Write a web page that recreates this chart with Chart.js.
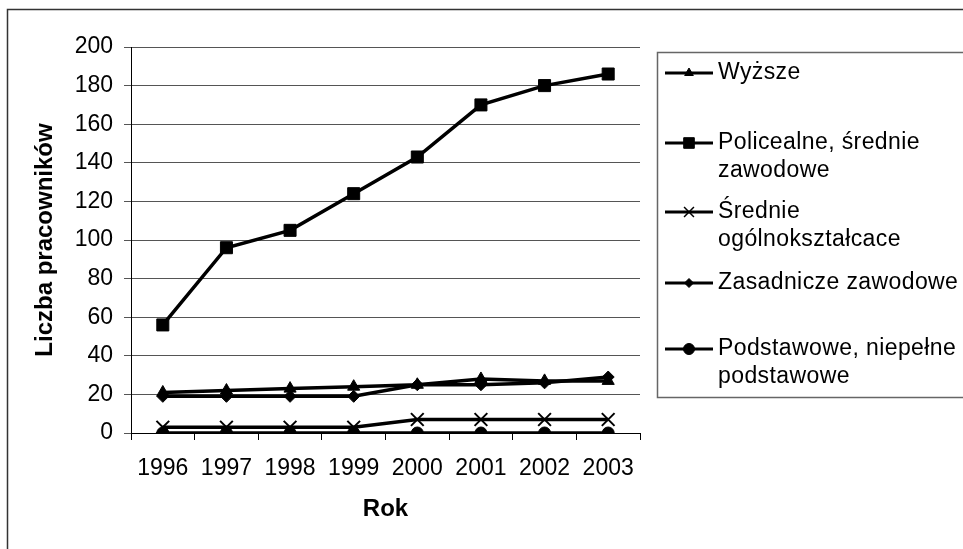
<!DOCTYPE html>
<html>
<head>
<meta charset="utf-8">
<script src="https://cdn.jsdelivr.net/npm/chart.js@4"></script>
<style>
  body { margin: 0; background: #fff; }
  #wrap { width: 963px; height: 549px; }
</style>
</head>
<body>
<div id="wrap"><canvas id="wykres" width="963" height="549"></canvas></div>
<script>
const lata = ['1996', '1997', '1998', '1999', '2000', '2001', '2002', '2003'];
const wyzsze = [21, 22, 23, 24, 25, 28, 27, 27];
const policealne = [56, 96, 105, 124, 143, 170, 180, 186];
const srednieOgolne = [3, 3, 3, 3, 7, 7, 7, 7];
const zasadnicze = [19, 19, 19, 19, 25, 25, 26, 29];
const podstawowe = [0, 0, 0, 0, 0, 0, 0, 0];
const nazwy = [
    ['Wyższe'],
    ['Policealne, średnie', 'zawodowe'],
    ['Średnie', 'ogólnokształcace'],
    ['Zasadnicze zawodowe'],
    ['Podstawowe, niepełne', 'podstawowe']
];

const czcionka = "'Liberation Sans', Arial, sans-serif";

function seria(i, dane, styl, r) {
    return {
        label: nazwy[i].join(' '),
        data: dane,
        borderColor: '#000',
        backgroundColor: '#000',
        borderWidth: 3.5,
        pointStyle: styl,
        pointRadius: r,
        pointBorderWidth: styl === 'crossRot' ? 2 : 1,
        tension: 0
    };
}

// ramka wykresu i legenda w stylu Excela
const ramki = {
    id: 'ramki',
    afterDraw(chart) {
        const ctx = chart.ctx;
        ctx.save();
        ctx.strokeStyle = '#333';
        ctx.lineWidth = 1.5;
        ctx.strokeRect(7.5, 9.5, 1000, 1000);
        ctx.strokeStyle = '#666';
        ctx.strokeRect(657.5, 52.5, 400, 345);

        const wiersze = [73, 143, 212, 283, 349];
        const rozmiar = [5, 7.5, 7, 4.5, 5.5];
        ctx.font = '23px ' + czcionka;
        ctx.letterSpacing = '0.4px';
        ctx.textBaseline = 'middle';
        ctx.fillStyle = '#000';
        chart.data.datasets.forEach((ds, i) => {
            const y = wiersze[i];
            ctx.strokeStyle = '#000';
            ctx.lineWidth = 3;
            ctx.beginPath();
            ctx.moveTo(665, y);
            ctx.lineTo(713, y);
            ctx.stroke();
            ctx.lineWidth = ds.pointStyle === 'crossRot' ? 1.5 : 1;
            Chart.helpers.drawPoint(ctx, {
                pointStyle: ds.pointStyle,
                radius: rozmiar[i],
                rotation: 0,
                borderWidth: ctx.lineWidth
            }, 689, y);
            nazwy[i].forEach((t, k) => ctx.fillText(t, 718, y + k * 28));
        });
        ctx.restore();
    }
};

new Chart(document.getElementById('wykres'), {
    type: 'line',
    data: {
        labels: lata,
        datasets: [
            seria(0, wyzsze, 'triangle', 7),
            seria(1, policealne, 'rect', 8.5),
            seria(2, srednieOgolne, 'crossRot', 9),
            seria(3, zasadnicze, 'rectRot', 6),
            seria(4, podstawowe, 'circle', 6)
        ]
    },
    options: {
        responsive: false,
        animation: false,
        layout: { padding: { left: 20, top: 47, right: 323, bottom: 20 } },
        plugins: {
            legend: { display: false },
            tooltip: { enabled: false }
        },
        scales: {
            x: {
                offset: true,
                afterFit(s) { s.height = 96; },
                grid: { display: true, drawOnChartArea: false, drawTicks: true, tickLength: 7, color: '#000', offset: true },
                border: { color: '#000', width: 1 },
                ticks: { color: '#000', padding: 15, font: { family: czcionka, size: 23 } },
                title: { display: true, text: 'Rok', color: '#000', padding: { top: 0, bottom: 5 }, font: { family: czcionka, size: 24, weight: 'bold' } }
            },
            y: {
                min: 0,
                max: 200,
                afterFit(s) { s.width = 111; },
                grid: { color: '#555', tickLength: 7, drawTicks: true },
                border: { color: '#000', width: 1 },
                ticks: { stepSize: 20, color: '#000', padding: 11, font: { family: czcionka, size: 23 } },
                title: { display: true, text: 'Liczba pracowników', color: '#000', padding: { top: 11, bottom: 0 }, font: { family: czcionka, size: 24, weight: 'bold' } }
            }
        }
    },
    plugins: [ramki]
});
</script>
</body>
</html>
